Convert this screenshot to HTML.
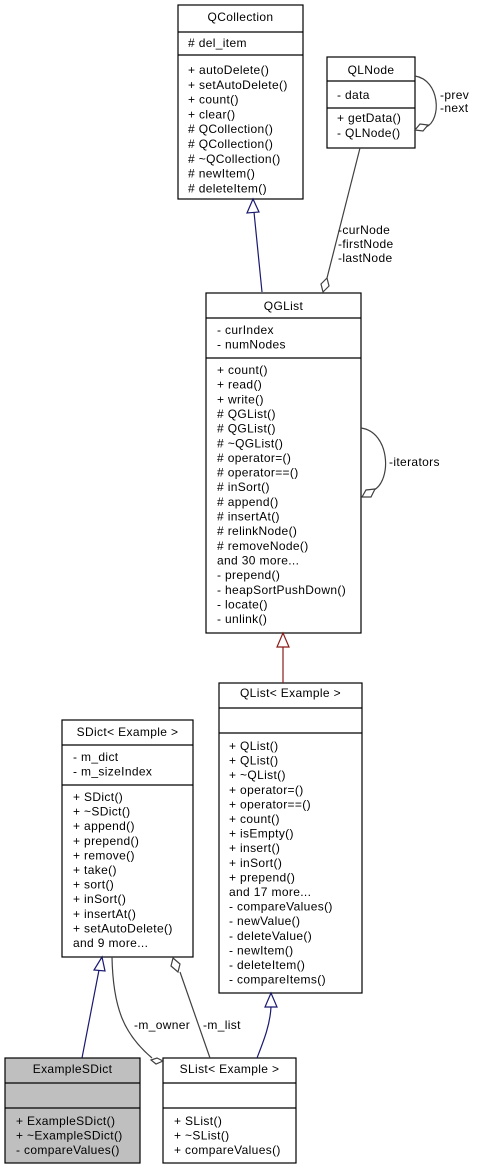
<!DOCTYPE html>
<html><head><meta charset="utf-8"><style>
html,body{margin:0;padding:0;background:#fff}
svg{display:block}
text{font-family:"Liberation Sans",sans-serif;font-size:12px;letter-spacing:0.35px;fill:#000}
</style></head><body>
<svg width="478" height="1169" viewBox="0 0 478 1169" xmlns="http://www.w3.org/2000/svg">
<g fill="#fff" stroke="#000" stroke-width="1.2">
<rect x="178" y="5" width="125" height="194"/>
<line x1="178" y1="32" x2="303" y2="32"/><line x1="178" y1="55" x2="303" y2="55"/>
<rect x="327" y="57" width="88" height="91"/>
<line x1="327" y1="81" x2="415" y2="81"/><line x1="327" y1="108" x2="415" y2="108"/>
<rect x="206" y="293" width="155" height="340"/>
<line x1="206" y1="318" x2="361" y2="318"/><line x1="206" y1="358" x2="361" y2="358"/>
<rect x="219" y="683" width="143" height="310"/>
<line x1="219" y1="708" x2="362" y2="708"/><line x1="219" y1="733" x2="362" y2="733"/>
<rect x="62" y="720" width="131" height="237"/>
<line x1="62" y1="745" x2="193" y2="745"/><line x1="62" y1="785" x2="193" y2="785"/>
<rect x="5" y="1058" width="135" height="105" fill="#bfbfbf"/>
<line x1="5" y1="1083" x2="140" y2="1083"/><line x1="5" y1="1108" x2="140" y2="1108"/>
<rect x="163" y="1058" width="133" height="105"/>
<line x1="163" y1="1083" x2="296" y2="1083"/><line x1="163" y1="1108" x2="296" y2="1108"/>
</g>

<g fill="none" stroke-width="1.2">
<path d="M262,292 L254,212" stroke="#191970"/>
<polygon points="253,199 247,213 259,212" fill="#fff" stroke="#191970"/>
<path d="M360,148 L327,278" stroke="#404040"/>
<polygon points="323,292 321,284 327,278 329,286" fill="#fff" stroke="#404040"/>
<path d="M415,76 C440,80 442,120 426,127" stroke="#404040"/>
<polygon points="415,130 420,124 428,125 423,131" fill="#fff" stroke="#404040"/>
<path d="M361,428 C390,432 392,480 374,490" stroke="#404040"/>
<polygon points="362,497 366,490 375,489 371,497" fill="#fff" stroke="#404040"/>
<path d="M283,683 L283,647" stroke="#8b1a1a"/>
<polygon points="283,633 277,647 289,647" fill="#fff" stroke="#8b1a1a"/>
<path d="M82,1058 L99,970" stroke="#191970"/>
<polygon points="102,957 94,970 105,971" fill="#fff" stroke="#191970"/>
<path d="M257,1058 C264,1040 270,1025 271,1007" stroke="#191970"/>
<polygon points="271,993 265,1007 277,1007" fill="#fff" stroke="#191970"/>
<path d="M112,957 C113,1010 125,1035 152,1058" stroke="#404040"/>
<polygon points="163,1061 157,1058 151,1060 156,1064" fill="#fff" stroke="#404040"/>
<path d="M210,1058 L180,972" stroke="#404040"/>
<polygon points="173,958 171,966 178,972 180,964" fill="#fff" stroke="#404040"/>
</g>

<text x="440" y="99">-prev</text>
<text x="440" y="112">-next</text>
<text x="338" y="234">-curNode</text>
<text x="338" y="248">-firstNode</text>
<text x="338" y="262">-lastNode</text>
<text x="389" y="466">-iterators</text>
<text x="134" y="1029">-m_owner</text>
<text x="203" y="1029">-m_list</text>

<text x="240.5" y="21" text-anchor="middle">QCollection</text>
<text x="188" y="47"># del_item</text>
<text x="188" y="74"><tspan x="188">+ autoDelete()</tspan><tspan x="188" dy="14.8">+ setAutoDelete()</tspan><tspan x="188" dy="14.8">+ count()</tspan><tspan x="188" dy="14.8">+ clear()</tspan><tspan x="188" dy="14.8"># QCollection()</tspan><tspan x="188" dy="14.8"># QCollection()</tspan><tspan x="188" dy="14.8"># ~QCollection()</tspan><tspan x="188" dy="14.8"># newItem()</tspan><tspan x="188" dy="14.8"># deleteItem()</tspan></text>

<text x="371" y="74" text-anchor="middle">QLNode</text>
<text x="337" y="99">- data</text>
<text x="337" y="122"><tspan x="337">+ getData()</tspan><tspan x="337" dy="15">- QLNode()</tspan></text>

<text x="283.5" y="310" text-anchor="middle">QGList</text>
<text x="217" y="334"><tspan x="217">- curIndex</tspan><tspan x="217" dy="14.7">- numNodes</tspan></text>
<text x="217" y="374"><tspan x="217">+ count()</tspan><tspan x="217" dy="14.65">+ read()</tspan><tspan x="217" dy="14.65">+ write()</tspan><tspan x="217" dy="14.65"># QGList()</tspan><tspan x="217" dy="14.65"># QGList()</tspan><tspan x="217" dy="14.65"># ~QGList()</tspan><tspan x="217" dy="14.65"># operator=()</tspan><tspan x="217" dy="14.65"># operator==()</tspan><tspan x="217" dy="14.65"># inSort()</tspan><tspan x="217" dy="14.65"># append()</tspan><tspan x="217" dy="14.65"># insertAt()</tspan><tspan x="217" dy="14.65"># relinkNode()</tspan><tspan x="217" dy="14.65"># removeNode()</tspan><tspan x="217" dy="14.65">and 30 more...</tspan><tspan x="217" dy="14.65">- prepend()</tspan><tspan x="217" dy="14.65">- heapSortPushDown()</tspan><tspan x="217" dy="14.65">- locate()</tspan><tspan x="217" dy="14.65">- unlink()</tspan></text>

<text x="290.5" y="697" text-anchor="middle">QList&lt; Example &gt;</text>
<text x="229" y="750"><tspan x="229">+ QList()</tspan><tspan x="229" dy="14.6">+ QList()</tspan><tspan x="229" dy="14.6">+ ~QList()</tspan><tspan x="229" dy="14.6">+ operator=()</tspan><tspan x="229" dy="14.6">+ operator==()</tspan><tspan x="229" dy="14.6">+ count()</tspan><tspan x="229" dy="14.6">+ isEmpty()</tspan><tspan x="229" dy="14.6">+ insert()</tspan><tspan x="229" dy="14.6">+ inSort()</tspan><tspan x="229" dy="14.6">+ prepend()</tspan><tspan x="229" dy="14.6">and 17 more...</tspan><tspan x="229" dy="14.6">- compareValues()</tspan><tspan x="229" dy="14.6">- newValue()</tspan><tspan x="229" dy="14.6">- deleteValue()</tspan><tspan x="229" dy="14.6">- newItem()</tspan><tspan x="229" dy="14.6">- deleteItem()</tspan><tspan x="229" dy="14.6">- compareItems()</tspan></text>

<text x="127.5" y="736" text-anchor="middle">SDict&lt; Example &gt;</text>
<text x="73" y="761"><tspan x="73">- m_dict</tspan><tspan x="73" dy="14.6">- m_sizeIndex</tspan></text>
<text x="73" y="801"><tspan x="73">+ SDict()</tspan><tspan x="73" dy="14.6">+ ~SDict()</tspan><tspan x="73" dy="14.6">+ append()</tspan><tspan x="73" dy="14.6">+ prepend()</tspan><tspan x="73" dy="14.6">+ remove()</tspan><tspan x="73" dy="14.6">+ take()</tspan><tspan x="73" dy="14.6">+ sort()</tspan><tspan x="73" dy="14.6">+ inSort()</tspan><tspan x="73" dy="14.6">+ insertAt()</tspan><tspan x="73" dy="14.6">+ setAutoDelete()</tspan><tspan x="73" dy="14.6">and 9 more...</tspan></text>

<text x="72.5" y="1073" text-anchor="middle">ExampleSDict</text>
<text x="16" y="1125"><tspan x="16">+ ExampleSDict()</tspan><tspan x="16" dy="14.6">+ ~ExampleSDict()</tspan><tspan x="16" dy="14.6">- compareValues()</tspan></text>

<text x="229.5" y="1073" text-anchor="middle">SList&lt; Example &gt;</text>
<text x="174" y="1125"><tspan x="174">+ SList()</tspan><tspan x="174" dy="14.6">+ ~SList()</tspan><tspan x="174" dy="14.6">+ compareValues()</tspan></text>
</svg>
</body></html>
